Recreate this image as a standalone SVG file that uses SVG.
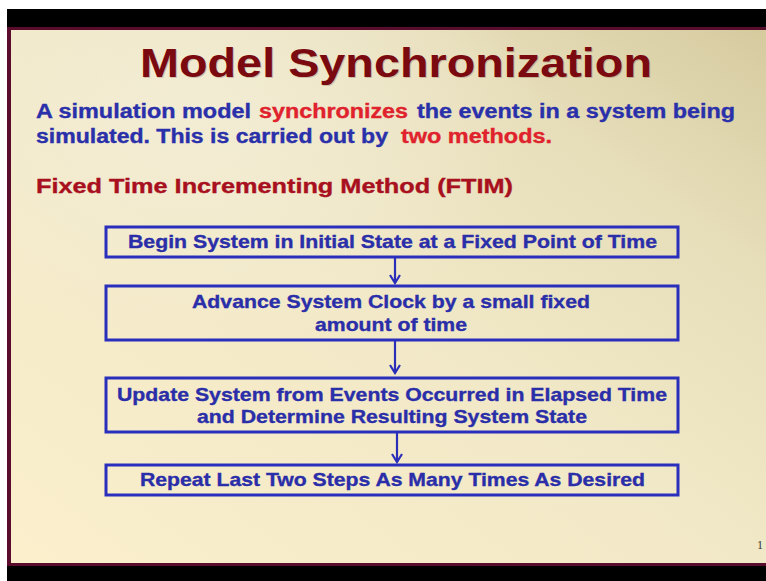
<svg xmlns="http://www.w3.org/2000/svg" width="766" height="581" viewBox="0 0 766 581">
  <defs>
    <linearGradient id="slideBg" x1="1" y1="0" x2="0" y2="1">
      <stop offset="0" stop-color="#d6cb9f"/>
      <stop offset="0.22" stop-color="#e6ddb9"/>
      <stop offset="0.5" stop-color="#f1e8c7"/>
      <stop offset="1" stop-color="#fbefcc"/>
    </linearGradient>
    <radialGradient id="glow" cx="0.25" cy="0.15" r="0.45">
      <stop offset="0" stop-color="#f3eed8" stop-opacity="0.8"/>
      <stop offset="1" stop-color="#f3eed8" stop-opacity="0"/>
    </radialGradient>
    <marker id="arrow" markerWidth="12" markerHeight="12" refX="10" refY="6" orient="auto" markerUnits="userSpaceOnUse" viewBox="0 0 12 12">
      <path d="M2,1 L10,6 L2,11" fill="none" stroke="#2a2eb8" stroke-width="2.2"/>
    </marker>
    <style>
      .body { font-family: "Liberation Sans", Arial, sans-serif; font-weight: bold; font-size: 20px; stroke-width: 0.35px; }
      .blue { fill: #2a30aa; stroke: #2a30aa; }
      .red { fill: #e0222c; stroke: #e0222c; }
      .head { fill: #a8101e; stroke: #a8101e; }
      .boxText { font-family: "Liberation Sans", Arial, sans-serif; font-weight: bold; font-size: 19px; fill: #2a2ea8; stroke: #2a2ea8; stroke-width: 0.35px; }
      .box { fill: none; stroke: #2a2ebc; stroke-width: 3; }
      .link { fill: none; stroke: #2a2eb8; stroke-width: 2.2; }
      .title { font-family: "Liberation Sans", Arial, sans-serif; font-weight: bold; font-size: 41px; }
    </style>
  </defs>

  <!-- frame around the slide -->
  <rect x="0" y="0" width="766" height="581" fill="#ffffff"/>
  <rect x="7" y="9" width="759" height="572" fill="#000000"/>
  <rect x="7" y="27" width="759" height="539" fill="#5a0c2c"/>

  <!-- slide background -->
  <rect x="11" y="30" width="755" height="533" fill="url(#slideBg)"/>
  <rect x="11" y="30" width="755" height="533" fill="url(#glow)"/>

  <!-- title with a faint drop shadow -->
  <text class="title" x="141" y="78" textLength="512" lengthAdjust="spacingAndGlyphs" fill="#3a0406" opacity="0.18">Model Synchronization</text>
  <text class="title" x="140" y="77" textLength="512" lengthAdjust="spacingAndGlyphs" fill="#7a0a10">Model Synchronization</text>

  <!-- introduction -->
  <text class="body blue" x="36" y="117.5" textLength="215" lengthAdjust="spacingAndGlyphs">A simulation model</text>
  <text class="body red" x="259" y="117.5" textLength="149" lengthAdjust="spacingAndGlyphs">synchronizes</text>
  <text class="body blue" x="417" y="117.5" textLength="318" lengthAdjust="spacingAndGlyphs">the events in a system being</text>
  <text class="body blue" x="36" y="143" textLength="352" lengthAdjust="spacingAndGlyphs">simulated. This is carried out by</text>
  <text class="body red" x="401" y="143" textLength="151" lengthAdjust="spacingAndGlyphs">two methods.</text>

  <!-- method heading -->
  <text class="body head" x="36" y="193" textLength="477" lengthAdjust="spacingAndGlyphs">Fixed Time Incrementing Method (FTIM)</text>

  <!-- flow steps -->
  <g id="step-begin">
    <rect class="box" x="106" y="227" width="572" height="30"/>
    <text class="boxText" x="128" y="247.5" textLength="529" lengthAdjust="spacingAndGlyphs">Begin System in Initial State at a Fixed Point of Time</text>
  </g>
  <g id="step-advance">
    <rect class="box" x="106" y="286" width="572" height="54"/>
    <text class="boxText" x="192" y="308" textLength="398" lengthAdjust="spacingAndGlyphs">Advance System Clock by a small fixed</text>
    <text class="boxText" x="315" y="330.5" textLength="152" lengthAdjust="spacingAndGlyphs">amount of time</text>
  </g>
  <g id="step-update">
    <rect class="box" x="106" y="378" width="572" height="54"/>
    <text class="boxText" x="117" y="400.5" textLength="550" lengthAdjust="spacingAndGlyphs">Update System from Events Occurred in Elapsed Time</text>
    <text class="boxText" x="197" y="423" textLength="390" lengthAdjust="spacingAndGlyphs">and Determine Resulting System State</text>
  </g>
  <g id="step-repeat">
    <rect class="box" x="106" y="465" width="572" height="30"/>
    <text class="boxText" x="140" y="486" textLength="505" lengthAdjust="spacingAndGlyphs">Repeat Last Two Steps As Many Times As Desired</text>
  </g>

  <!-- connectors -->
  <g id="connectors">
    <line class="link" x1="395" y1="258" x2="395" y2="283" marker-end="url(#arrow)"/>
    <line class="link" x1="395" y1="341" x2="395" y2="373" marker-end="url(#arrow)"/>
    <line class="link" x1="397" y1="433" x2="397" y2="462" marker-end="url(#arrow)"/>
  </g>

  <!-- page number -->
  <text x="757" y="549" font-family="Liberation Serif, serif" font-size="12" fill="#333333">1</text>
</svg>
